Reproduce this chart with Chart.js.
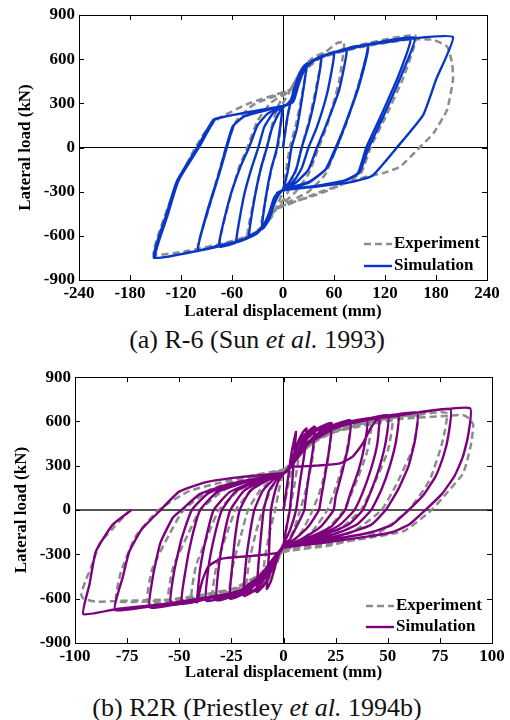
<!DOCTYPE html>
<html>
<head>
<meta charset="utf-8">
<script src="https://cdn.jsdelivr.net/npm/chart.js@4.4.1/dist/chart.umd.min.js"></script>
<style>
  body { margin: 0; background: #fff; width: 510px; height: 720px; overflow: hidden; position: relative; }
  canvas { position: absolute; left: 0; }
  .pie { position: absolute; left: 0; width: 514px; text-align: center; font-family: 'Liberation Serif', 'Times New Roman', serif; font-size: 26px; line-height: 30px; color: #111; }
</style>
</head>
<body>
<canvas id="graficoA" width="510" height="325" style="top:0px"></canvas>
<div class="pie" style="top:325px">(a) R-6 (Sun <i>et al.</i> 1993)</div>
<canvas id="graficoB" width="510" height="325" style="top:363px"></canvas>
<div class="pie" style="top:693px">(b) R2R (Priestley <i>et al.</i> 1994b)</div>
<script>
//INICIO datos (desplazamiento mm, carga kN)

var ticksXA = [-240, -180, -120, -60, 0, 60, 120, 180, 240];
var ticksXB = [-100, -75, -50, -25, 0, 25, 50, 75, 100];
var ticksY = [-900, -600, -300, 0, 300, 600, 900];
var nombres = ['Experiment', 'Simulation'];

// (a) R-6 simulación
var simA = [
  [0,0],[5,200],[10,330],[16,450],[22,530],[28,570],
  [22,320],[16,120],[10,0],[6,-150],[2,-250],[0,-285],[-5,-320],[-10,-380],[-16,-480],[-22,-540],[-25,-555],
  [-20,-330],[-14,-150],[-7,0],[-3,150],[0,270],[6,300],[12,350],[18,450],[24,530],[32,575],[45,610],
  [38,350],[30,150],[22,0],[16,-140],[8,-230],[0,-285],[-6,-320],[-11,-390],[-17,-480],[-24,-545],[-32,-580],[-40,-600],
  [-33,-330],[-26,-140],[-19,0],[-13,130],[-6,220],[0,275],[8,300],[13,360],[18,450],[24,530],[32,575],[45,612],[60,640],
  [52,370],[40,140],[30,0],[22,-140],[12,-235],[0,-285],[-7,-325],[-12,-400],[-18,-490],[-25,-550],[-35,-590],[-45,-620],[-55,-640],
  [-46,-330],[-37,-140],[-29,0],[-22,140],[-12,230],[0,278],[9,300],[14,370],[19,460],[25,540],[35,590],[50,630],[65,650],[75,660],
  [66,390],[50,140],[40,0],[30,-150],[15,-240],[0,-287],[-8,-330],[-13,-410],[-20,-510],[-28,-570],[-40,-610],[-55,-645],[-75,-672],
  [-63,-350],[-50,-130],[-40,0],[-30,150],[-18,230],[0,280],[10,305],[15,380],[20,470],[27,550],[40,605],[60,645],[80,675],[100,695],
  [88,400],[72,140],[62,0],[50,-150],[30,-240],[0,-288],[-9,-330],[-15,-430],[-22,-530],[-32,-590],[-50,-635],[-75,-668],[-100,-695],
  [-88,-420],[-75,-180],[-66,0],[-58,150],[-45,215],[-20,255],[0,281],[11,305],[16,390],[21,480],[28,560],[45,620],[75,665],[100,688],
  [89,410],[73,150],[63,0],[51,-145],[30,-235],[0,-286],[-9,-328],[-15,-425],[-22,-525],[-32,-588],[-50,-632],[-75,-665],[-100,-697],
  [-89,-430],[-76,-190],[-67,0],[-59,145],[-45,212],[-20,252],[0,280],[11,305],[16,390],[21,480],[28,560],[45,620],[75,670],[110,712],[155,745],
  [140,500],[118,210],[101,0],[90,-170],[75,-220],[40,-260],[0,-290],[-10,-335],[-16,-440],[-23,-530],[-35,-595],[-60,-648],[-100,-700],[-152,-748],
  [-138,-470],[-125,-231],[-101,0],[-82,188],[-70,208],[-40,240],[0,282],[12,310],[18,420],[25,530],[40,605],[80,678],[120,715],[150,738],
  [136,490],[114,200],[98,0],[88,-175],[72,-225],[40,-262],[0,-292],[-10,-338],[-16,-445],[-23,-535],[-35,-598],[-60,-650],[-100,-702],[-150,-745],
  [-136,-465],[-123,-225],[-99,0],[-80,190],[-68,210],[-40,242],[0,283],[12,312],[18,420],[25,530],[40,605],[80,680],[155,742],[200,750],
  [180,460],[165,222],[134,0],[105,-192],[80,-235],[40,-265],[0,-290],[-8,-310]
];

// (a) R-6 ensayo
var expA = [
  [0,0],[6,230],[12,380],[20,500],[28,560],
  [22,350],[15,150],[8,0],[3,-180],[0,-300],[-5,-370],[-12,-460],[-20,-520],[-26,-545],
  [-20,-340],[-13,-130],[-6,0],[-2,180],[0,300],[6,360],[14,450],[22,530],[32,580],[45,615],
  [38,380],[30,170],[22,0],[14,-180],[6,-300],[0,-360],[-8,-410],[-15,-480],[-24,-540],[-32,-575],[-42,-600],
  [-34,-350],[-26,-140],[-19,0],[-12,170],[-5,290],[0,350],[8,390],[15,460],[24,550],[35,610],[50,650],[64,710],[72,715],
  [66,450],[52,150],[42,0],[30,-180],[15,-300],[0,-380],[-10,-430],[-20,-520],[-30,-570],[-45,-610],[-60,-640],[-75,-660],
  [-64,-380],[-52,-140],[-42,0],[-30,180],[-15,300],[0,360],[10,400],[18,470],[28,560],[45,625],[70,665],[100,700],
  [90,450],[75,170],[63,0],[50,-180],[30,-300],[0,-390],[-12,-440],[-22,-530],[-35,-590],[-60,-640],[-100,-690],
  [-88,-430],[-76,-180],[-67,0],[-55,180],[-35,290],[0,370],[12,410],[20,490],[30,570],[55,640],[100,710],[156,758],
  [142,480],[120,200],[103,0],[92,-170],[70,-250],[40,-320],[0,-395],[-14,-450],[-25,-540],[-40,-600],[-70,-650],[-110,-700],[-152,-725],
  [-140,-480],[-125,-250],[-105,-20],[-90,120],[-75,200],[-40,300],[0,375],[15,410],[25,520],[45,610],[90,680],[150,735],
  [177,731],[193,686],[199,572],[200,460],[193,256],[177,97],[160,-5],[138,-129],[118,-174],[99,-197],[70,-250],[40,-310],[0,-400],[-10,-420]
];

// (b) R2R simulación
var simB = [
  [0,0],[2,200],[4,400],[6,530],
  [5,350],[4,150],[3,0],[1,-150],[0,-230],
  [-2,-290],[-4,-380],[-6,-480],[-8,-533],
  [-7,-300],[-6.5,-120],[-6,0],[-4,130],[-2,210],[0,245],
  [2,275],[4,340],[7,460],[9,520],[11,553],
  [10,380],[8,200],[6,0],[3,-140],[0,-230],
  [-2,-285],[-4,-340],[-7,-450],[-10,-520],[-12.8,-555],
  [-11.8,-330],[-10.5,-130],[-9.5,0],[-7,130],[-3,210],[0,245],
  [2,272],[4,330],[7,440],[10,510],[15,565],
  [14,400],[12,220],[10.5,60],[10,0],[6,-120],[3,-200],[0,-235],
  [-2,-280],[-5,-340],[-9,-460],[-14,-545],[-19,-580],
  [-18,-350],[-16,-150],[-14,0],[-10,130],[-5,205],[0,246],
  [2,270],[5,330],[10,460],[16,550],[23,590],
  [22,420],[20,240],[18,80],[17,0],[12,-110],[6,-190],[2,-225],[0,-238],
  [-2,-280],[-5,-335],[-10,-450],[-17,-550],[-25.6,-600],
  [-24.5,-370],[-23,-160],[-21,0],[-16,130],[-8,200],[0,247],
  [3,280],[6,340],[11,450],[19,545],[32,609],
  [31,430],[28,250],[25,90],[24,0],[18,-110],[10,-185],[4,-225],[0,-240],
  [-2,-280],[-5,-330],[-10,-440],[-20,-555],[-32,-611],
  [-31,-380],[-28.5,-170],[-25.5,0],[-19,130],[-10,200],[0,248],
  [3,280],[6,340],[12,450],[22,550],[40,615],
  [39,450],[36,270],[32,110],[29.5,0],[23,-110],[14,-175],[6,-220],[0,-240],
  [-2,-280],[-5,-330],[-11,-440],[-22,-555],[-37,-615],
  [-36,-390],[-33,-170],[-29.5,0],[-23,125],[-12,200],[0,248],
  [3,290],[15,300],[27,316],[33,360],[38,450],[42,560],[46,630],
  [45,450],[42,280],[38,120],[34,0],[27,-100],[17,-170],[8,-215],[0,-243],
  [-3,-290],[-15,-310],[-30,-330],[-36,-380],[-39,-480],[-41.5,-625],
  [-40,-400],[-37,-180],[-33.5,0],[-26,120],[-14,195],[0,248],
  [3,280],[6,340],[12,450],[25,555],[50,642],
  [49,460],[46,290],[42,130],[38,0],[31,-100],[20,-165],[10,-210],[0,-245],
  [-2,-280],[-5,-330],[-10,-450],[-20,-540],[-35,-595],[-48.7,-633],
  [-47,-410],[-44,-190],[-40,0],[-32,120],[-18,190],[0,250],
  [3,280],[6,345],[12,460],[25,560],[40,610],[55,647],
  [54,470],[51,300],[47,140],[42,0],[35,-100],[25,-160],[12,-210],[0,-248],
  [-2,-280],[-5,-330],[-10,-460],[-20,-545],[-38,-600],[-54,-640],
  [-52.5,-420],[-49,-200],[-44,0],[-36,115],[-20,190],[0,250],
  [3,280],[6,350],[10,470],[16,540],[35,600],[64,660],
  [63,470],[60,300],[55,140],[49,0],[42,-100],[30,-160],[15,-210],[0,-250],
  [-2,-285],[-5,-330],[-10,-470],[-18,-540],[-40,-605],[-64,-660],
  [-62.5,-440],[-59,-220],[-53,-50],[-49,0],[-40,110],[-25,180],[0,250],
  [3,280],[6,350],[10,480],[15,545],[30,590],[55,640],[80,683],
  [79,500],[77,380],[73,230],[67,100],[60,0],[52,-100],[42,-150],[25,-195],[0,-250],
  [-2,-290],[-4,-330],[-8,-480],[-13,-540],[-25,-565],[-50,-620],[-80.7,-677],
  [-77,-450],[-74,-282],[-68,-130],[-59,0],[-50,125],[-37,190],[-20,225],[0,252],
  [3,280],[6,360],[10,490],[15,550],[40,620],[65,662],[89.5,690],
  [88.5,500],[86,360],[82,230],[76,110],[68,0],[60,-100],[52,-150],[40,-180],[20,-220],[0,-255],
  [-2,-290],[-4,-330],[-8,-480],[-13,-545],[-30,-585],[-60,-640],[-80,-670],[-96,-704],
  [-93,-500],[-90,-280],[-82,-100],[-73,0]
];

// (b) R2R ensayo
var expB = [
  [0,0],[3,220],[6,400],[8,500],
  [7,330],[5,150],[3,0],[1,-150],[0,-260],
  [-2,-320],[-5,-420],[-8,-490],[-10,-520],
  [-9,-330],[-6.5,-140],[-4,0],[-2,150],[0,260],
  [2,300],[5,380],[9,460],[12,510],[15,540],
  [14,360],[11,150],[8,0],[5,-130],[2,-220],[0,-265],
  [-2,-310],[-5,-390],[-9,-470],[-13,-530],[-18,-560],
  [-16.5,-350],[-13,-140],[-10,0],[-6,140],[-2,230],[0,262],
  [3,300],[7,390],[12,480],[17,540],[23,570],
  [21.5,370],[18,150],[14,0],[9,-140],[4,-220],[0,-268],
  [-3,-310],[-7,-400],[-12,-480],[-19,-550],[-26,-585],
  [-24,-360],[-20,-150],[-17,0],[-11,140],[-4,225],[0,265],
  [3,300],[8,390],[14,480],[22,550],[32,590],
  [30,380],[25,150],[21,0],[14,-140],[6,-225],[0,-270],
  [-3,-315],[-8,-400],[-14,-490],[-23,-560],[-34,-600],
  [-32,-370],[-27,-150],[-23,0],[-15,140],[-6,225],[0,268],
  [4,310],[9,400],[16,490],[27,560],[42,605],
  [40,390],[34,160],[29,0],[20,-140],[9,-230],[0,-275],
  [-4,-320],[-9,-410],[-17,-500],[-29,-570],[-44,-610],
  [-42,-380],[-36,-160],[-31,0],[-21,140],[-9,225],[0,270],
  [4,310],[10,410],[18,500],[32,570],[52,620],
  [50,400],[43,160],[37,0],[26,-140],[12,-230],[0,-278],
  [-4,-320],[-10,-420],[-19,-510],[-35,-580],[-55,-615],
  [-53,-390],[-46,-170],[-40,0],[-28,140],[-12,225],[0,272],
  [4,310],[11,420],[20,510],[38,585],[64,640],
  [62,420],[54,170],[47,0],[34,-140],[16,-235],[0,-280],
  [-4,-320],[-11,-430],[-21,-520],[-40,-590],[-65,-625],
  [-63,-400],[-55,-170],[-48,0],[-35,140],[-15,225],[0,275],
  [4,310],[12,430],[22,520],[45,600],[78,660],
  [76,450],[70,200],[60,0],[46,-150],[22,-240],[0,-282],
  [-4,-325],[-12,-440],[-24,-530],[-50,-600],[-80,-617],
  [-78,-420],[-71,-180],[-60,0],[-45,130],[-20,220],[0,276],
  [4,315],[12,440],[25,530],[55,615],[80,640],[86,644],[89,620],[91,577],[90,450],[88,330],[86,244],[78,111],[71,0],
  [58,-140],[40,-190],[20,-235],[0,-285],
  [-4,-330],[-12,-450],[-25,-540],[-55,-605],[-80,-615],[-90,-620],[-96,-600],[-97,-570],[-95,-480],[-92.6,-400],
  [-88,-222],[-81,-111],[-74,-5]
];
//FIN datos

Chart.defaults.font.family = "'Liberation Serif', 'Times New Roman', serif";
Chart.defaults.font.size = 17;
Chart.defaults.font.weight = 'bold';
Chart.defaults.color = '#000';

function aPuntos(lista) {
  return lista.map(function (p) { return { x: p[0], y: p[1] }; });
}

// marco, marcas interiores y leyenda
var marcoPlugin = {
  id: 'marco',
  afterDatasetsDraw: function (chart, args, opts) {
    var ctx = chart.ctx;
    var area = chart.chartArea;
    var sx = chart.scales.x;
    var sy = chart.scales.y;
    ctx.save();
    ctx.strokeStyle = '#000';
    ctx.lineWidth = 1;
    ctx.beginPath();
    sx.ticks.forEach(function (t) {
      var px = Math.round(sx.getPixelForValue(t.value)) + 0.5;
      ctx.moveTo(px, area.bottom);
      ctx.lineTo(px, area.bottom - 5);
      ctx.moveTo(px, area.top);
      ctx.lineTo(px, area.top + 5);
    });
    sy.ticks.forEach(function (t) {
      var py = Math.round(sy.getPixelForValue(t.value)) + 0.5;
      ctx.moveTo(area.left, py);
      ctx.lineTo(area.left + 5, py);
      ctx.moveTo(area.right, py);
      ctx.lineTo(area.right - 5, py);
    });
    ctx.stroke();
    ctx.strokeRect(Math.round(area.left) + 0.5, Math.round(area.top) + 0.5,
      Math.round(area.right - area.left), Math.round(area.bottom - area.top));

    // leyenda
    var x0 = area.right - opts.lineaDesde;
    var x1 = x0 + 28;
    var filas = [area.bottom - opts.fila1, area.bottom - opts.fila2];
    ctx.lineWidth = 2.6;
    ctx.strokeStyle = '#8c8c8c';
    ctx.setLineDash([7, 4]);
    ctx.beginPath();
    ctx.moveTo(x0, filas[0]);
    ctx.lineTo(x1, filas[0]);
    ctx.stroke();
    ctx.setLineDash([]);
    ctx.strokeStyle = opts.colorSim;
    ctx.lineWidth = 2.4;
    ctx.beginPath();
    ctx.moveTo(x0, filas[1]);
    ctx.lineTo(x1, filas[1]);
    ctx.stroke();
    ctx.fillStyle = '#000';
    ctx.font = "bold 17px 'Liberation Serif', 'Times New Roman', serif";
    ctx.textBaseline = 'middle';
    ctx.fillText(nombres[0], x1 + 2, filas[0]);
    ctx.fillText(nombres[1], x1 + 2, filas[1]);
    ctx.restore();
  }
};

function crearGrafico(id, sim, exp, colorSim, ticksX, cfg) {
  var ctx = document.getElementById(id).getContext('2d');
  return new Chart(ctx, {
    type: 'scatter',
    data: {
      datasets: [
        {
          label: nombres[1],
          data: aPuntos(sim),
          showLine: true,
          borderColor: colorSim,
          borderWidth: 2.4,
          pointRadius: 0,
          tension: 0.15,
          order: 0
        },
        {
          label: nombres[0],
          data: aPuntos(exp),
          showLine: true,
          borderColor: '#8c8c8c',
          borderWidth: 2.5,
          borderDash: [7, 4],
          pointRadius: 0,
          tension: 0.15,
          order: 1
        }
      ]
    },
    options: {
      responsive: false,
      animation: false,
      layout: { padding: { top: cfg.arriba, right: cfg.derecha, left: 0, bottom: 0 } },
      scales: {
        x: {
          type: 'linear',
          min: ticksX[0],
          max: ticksX[ticksX.length - 1],
          afterBuildTicks: function (s) { s.ticks = ticksX.map(function (v) { return { value: v }; }); },
          afterFit: function (s) { s.height = 45; },
          ticks: { padding: 3, autoSkip: false, maxRotation: 0 },
          grid: {
            drawTicks: false,
            color: function (c) { return c.tick && c.tick.value === 0 ? '#000' : 'rgba(0,0,0,0)'; },
            lineWidth: 1
          },
          border: { display: true, color: '#000' },
          title: { display: true, text: 'Lateral displacement (mm)', padding: { top: 0, bottom: cfg.tituloX } }
        },
        y: {
          type: 'linear',
          min: -900,
          max: 900,
          afterBuildTicks: function (s) { s.ticks = ticksY.map(function (v) { return { value: v }; }); },
          afterFit: function (s) { s.width = cfg.anchoY; },
          ticks: { padding: 4, autoSkip: false },
          grid: {
            drawTicks: false,
            color: function (c) { return c.tick && c.tick.value === 0 ? cfg.ceroY : 'rgba(0,0,0,0)'; },
            lineWidth: function (c) { return c.tick && c.tick.value === 0 ? cfg.anchoCeroY : 1; }
          },
          border: { display: true, color: '#000' },
          title: { display: true, text: 'Lateral load (kN)', padding: { top: cfg.tituloY, bottom: 0 } }
        }
      },
      plugins: {
        legend: { display: false },
        tooltip: { enabled: false },
        marco: { colorSim: colorSim, lineaDesde: cfg.leyenda, fila1: cfg.fila1, fila2: cfg.fila2 }
      }
    },
    plugins: [marcoPlugin]
  });
}

var graficoA = crearGrafico('graficoA', simA, expA, '#0836c9', ticksXA,
  { arriba: 15, derecha: 23, anchoY: 79, tituloX: 3, tituloY: 15, ceroY: '#000', anchoCeroY: 1, leyenda: 123, fila1: 36, fila2: 14 });
var graficoB = crearGrafico('graficoB', simB, expB, '#7d007d', ticksXB,
  { arriba: 9, derecha: 18, anchoY: 75, tituloX: 5, tituloY: 11, ceroY: '#555', anchoCeroY: 2, leyenda: 126, fila1: 37, fila2: 16 });
</script>
</body>
</html>
